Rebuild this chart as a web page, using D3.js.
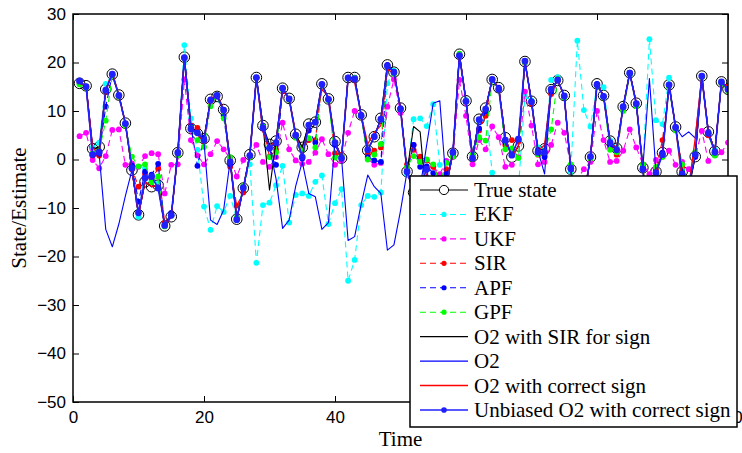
<!DOCTYPE html>
<html><head><meta charset="utf-8">
<script src="https://cdn.jsdelivr.net/npm/d3@7"></script>
<style>body{margin:0;background:#fff}svg{display:block}</style>
</head><body><svg id="c" width="742" height="453"></svg>
<script>
// ---------------- data ----------------
const xTicks = [0, 20, 40, 60, 80, 100];
const xTickLabels = ["0", "20", "40", "", "", "100"]; // 60 and 80 sit under the legend
const yTicks = [-50, -40, -30, -20, -10, 0, 10, 20, 30];
const timeSteps = d3.range(1, 101);

const trueState = [15.7,15.2,2.2,2.6,14.5,17.6,13.3,7.5,-2.2,-11.4,
 -4.6,-5.6,-5.3,-13.7,-11.8,1.4,21.1,6.4,5.3,4.3,
 12.4,13.0,10.3,-0.2,-12.3,-5.9,1.0,16.9,7.0,3.1,
 3.8,14.7,12.6,5.2,2.5,7.3,7.7,15.6,12.5,3.7,
 0.3,16.9,16.9,9.2,1.9,4.7,8.5,19.5,18.0,10.6,
 -2.5,-6.8,-5.8,-9.0,-11.6,-12.1,-5.5,1.3,21.7,12.1,
 0.6,8.3,10.6,16.5,14.8,4.5,0.5,2.8,20.2,12.0,
 1.8,2.2,14.4,16.3,13.2,-2.0,-14.0,-8.0,0.5,15.6,
 13.2,3.8,2.3,10.9,17.9,11.6,-1.7,-16.5,-2.5,1.4,
 15.4,6.7,-2.5,-6.0,0.6,17.2,5.7,1.7,16.0,14.5];

const ekf = [15.5,15.0,2.5,3.5,15.6,17.5,13.0,7.2,-1.8,-11.8,
 -1.8,-4.5,-5.0,-13.5,-11.6,1.0,23.6,8.5,2.0,-9.7,
 -14.5,-9.6,-10.8,-7.5,-12.3,-5.6,-1.0,-21.3,-9.4,-8.9,
 -5.3,-1.3,-13.0,-7.3,-7.0,-7.5,-4.6,-3.3,-13.3,-9.0,
 -6.1,-25.0,-20.7,-9.4,-7.5,-7.7,-6.8,15.7,18.3,10.5,
 -3.0,8.3,8.5,6.9,11.4,-1.1,-0.5,1.0,21.5,12.3,
 1.0,8.0,10.2,-2.7,-6.0,-4.0,-5.0,-6.0,13.0,12.2,
 2.5,2.0,16.4,17.0,13.0,-2.5,24.5,10.2,6.8,15.3,
 14.9,4.0,2.5,10.5,17.5,11.5,-1.5,24.8,8.1,7.3,
 16.9,6.5,-2.0,-5.0,0.9,17.0,5.5,2.0,15.8,14.3];

const ukf = [4.8,5.5,-0.1,-1.8,0.7,6.1,6.2,-1.1,-0.8,-1.5,
 0.7,1.3,1.1,-7.0,-1.1,-1.0,16.5,4.0,0.8,-1.0,
 1.1,3.8,2.1,0.2,-3.5,-0.1,0.9,3.0,-0.5,-1.5,
 0.5,7.6,2.1,-0.2,-0.9,-0.5,1.4,4.2,1.1,-1.1,
 -0.2,5.5,10.0,9.2,0.2,-1.1,-0.7,10.9,16.5,9.6,
 -2.0,3.0,-0.5,-2.0,-1.5,-3.0,-0.3,0.5,16.4,9.0,
 -1.0,4.0,2.1,6.8,4.6,-1.5,-1.1,0.5,14.0,7.0,
 -1.0,-0.5,3.0,7.6,5.5,-1.2,-4.0,-2.0,-0.5,10.0,
 4.0,-0.5,-0.3,1.8,6.2,2.5,-1.0,-3.0,-0.1,1.1,
 1.8,-1.1,-0.5,-2.0,0.5,5.9,-0.3,1.1,1.5,3.5];

const sir = [15.8,15.0,0.8,0.8,14.0,17.5,13.0,7.3,-2.0,-5.6,
 -3.0,-3.9,-1.9,-13.0,-11.5,1.0,21.0,7.0,6.5,3.8,
 12.0,13.2,10.0,-1.5,-9.5,-6.8,0.6,16.8,7.0,0.6,
 2.0,14.6,12.5,4.8,2.0,4.0,4.0,15.5,12.4,1.3,
 1.0,16.9,16.8,9.0,1.1,1.8,2.5,19.4,17.8,10.5,
 -1.0,2.0,0.6,-0.2,-1.5,-4.0,-2.0,0.6,21.6,12.0,
 0.3,6.0,9.0,16.4,14.6,3.0,4.0,3.7,20.0,11.5,
 1.0,0.9,13.5,16.2,13.0,-1.5,-12.0,-7.0,0.3,15.5,
 13.0,2.5,1.0,10.5,17.8,11.5,-1.0,-15.0,-2.0,4.0,
 15.2,6.5,-1.5,-5.0,1.0,17.0,5.0,1.5,15.8,15.0];

const apf = [16.2,15.0,1.0,1.2,10.9,17.5,13.2,7.3,-1.2,-8.7,
 -2.5,-3.1,-0.9,-13.5,-11.0,1.5,21.0,6.8,-1.3,4.5,
 12.4,13.0,9.0,-1.0,-12.0,-6.0,0.8,16.9,7.0,2.5,
 -1.1,14.7,12.5,5.0,0.2,6.0,3.5,15.5,12.4,3.0,
 0.3,16.9,16.9,9.2,0.5,-0.2,-0.5,19.5,18.0,10.6,
 -2.5,3.0,-1.5,-1.4,-2.8,-6.0,-3.0,1.0,21.5,12.0,
 0.2,6.4,10.0,16.5,14.8,3.5,0.9,4.2,20.2,12.0,
 2.0,0.5,14.0,16.3,13.0,-2.0,-13.0,-8.0,0.5,15.6,
 13.0,3.0,2.0,10.9,17.9,11.5,-1.7,-16.0,-2.5,1.4,
 15.4,6.7,-2.5,-5.0,0.6,17.2,5.7,1.7,16.0,14.5];

const gpf = [15.5,14.8,1.3,1.8,8.0,17.3,13.0,7.0,0.6,-1.4,
 -1.0,-4.7,-3.5,-13.8,-11.5,0.8,21.0,6.5,4.0,2.6,
 11.0,13.3,8.5,0.5,-12.0,-5.5,0.5,16.8,6.8,0.5,
 1.5,14.5,12.3,4.5,2.0,4.4,2.5,15.4,12.2,0.4,
 0.8,16.7,16.8,9.0,0.0,1.0,3.2,19.3,17.7,10.3,
 -1.5,0.7,-0.5,0.0,-1.0,-5.0,-0.7,0.6,21.8,12.0,
 1.0,4.6,3.9,16.3,14.5,2.1,2.3,0.3,20.0,11.8,
 1.1,1.5,6.2,16.6,12.8,-1.0,-12.0,-7.0,0.2,15.3,
 12.8,2.0,1.5,10.0,17.6,11.0,-1.0,-15.0,-1.5,0.5,
 15.0,6.0,-1.0,-5.0,1.5,17.0,5.5,0.8,15.7,14.2];

const o2SirSign = [15.7,15.2,2.5,2.0,14.5,17.6,13.3,7.5,-2.2,-11.4,
 -4.6,-5.6,-5.3,-13.7,-11.8,1.4,21.1,6.4,5.3,4.3,
 12.4,13.0,10.3,-0.2,-12.3,-5.9,1.0,16.9,7.0,-6.3,
 3.8,14.7,12.6,5.2,2.5,7.3,7.7,15.6,12.5,3.7,
 0.3,16.9,16.9,9.2,1.9,4.7,8.5,19.5,18.0,10.6,
 -2.5,6.8,5.7,-9.0,-11.6,-12.1,-5.5,1.3,21.7,12.1,
 0.6,8.3,10.6,16.5,14.8,4.5,0.5,2.8,20.2,12.0,
 1.8,2.2,14.4,16.3,13.2,-2.0,-14.0,-8.0,0.5,15.6,
 13.2,3.8,2.3,10.9,17.9,11.6,-1.7,-16.5,-2.5,1.4,
 15.4,6.7,-2.5,-6.0,0.6,17.2,5.7,1.7,16.0,14.5];

const o2 = [15.7,15.2,2.5,1.0,-14.4,-18.0,-13.3,-7.5,-2.2,-11.4,
 -4.6,-5.6,-5.3,-13.7,-11.8,1.4,21.1,6.4,5.3,3.5,
 -12.5,-13.4,-10.4,-0.2,-12.3,-5.9,1.0,16.9,5.7,2.6,
 -4.0,-14.2,-12.5,-5.5,-0.5,-7.0,-7.7,-14.4,-13.0,3.7,
 0.2,-16.7,-15.9,-9.2,-3.2,-5.6,-7.0,-18.7,-17.6,-10.6,
 -2.5,-6.8,-5.8,3.0,11.6,12.1,-5.5,1.3,21.7,12.1,
 0.6,8.3,10.6,16.5,14.8,4.5,0.5,2.8,20.2,12.0,
 1.8,-3.0,14.4,16.3,13.2,-2.0,-14.0,-8.0,0.5,15.6,
 13.2,3.8,2.3,10.9,17.9,11.6,-1.7,16.7,-2.5,1.4,
 15.4,6.7,4.7,5.7,4.4,17.2,5.7,1.7,16.0,14.5];

const o2Correct = [15.7,15.2,2.5,1.0,14.4,18.0,13.3,7.5,-2.2,-11.4,
 -4.6,-5.6,-5.3,-13.7,-11.8,1.4,21.1,6.4,5.3,3.5,
 12.5,13.4,10.4,-0.2,-12.3,-5.9,1.0,16.9,5.7,2.6,
 4.0,14.2,12.5,5.5,0.5,7.0,7.7,14.4,13.0,3.7,
 0.2,16.7,15.9,9.2,3.2,5.6,7.0,18.7,17.6,10.6,
 -2.5,-6.8,-5.8,-3.0,-11.6,-12.1,-5.5,1.3,21.7,12.1,
 0.6,8.3,10.6,16.5,14.8,4.5,0.5,2.8,20.2,12.0,
 1.8,3.0,14.4,16.3,13.2,-2.0,-14.0,-8.0,0.5,15.6,
 13.2,3.8,2.3,10.9,17.9,11.6,-1.7,-16.7,-2.5,1.4,
 15.4,6.7,-4.7,-5.7,4.4,17.2,5.7,1.7,16.0,14.5];

const unbiasedO2 = [16.2,15.0,1.0,1.5,14.3,17.6,13.2,7.4,-1.8,-11.0,
 -3.8,-3.5,-5.9,-13.6,-11.5,1.4,21.0,6.3,5.5,4.0,
 12.2,13.2,10.2,-0.5,-12.4,-5.8,0.8,16.9,6.5,2.3,
 3.5,14.7,12.5,5.0,0.5,7.1,7.7,15.5,12.4,3.5,
 0.3,16.8,16.6,9.0,2.0,4.7,8.3,19.3,18.0,10.4,
 -2.5,-6.5,-5.5,-2.0,-11.3,-11.8,-5.3,1.5,21.4,12.0,
 0.3,8.2,10.4,16.5,14.5,4.0,0.9,4.2,20.3,11.9,
 1.5,1.5,14.5,16.4,13.1,-1.8,-13.8,-7.8,0.6,15.4,
 13.0,3.5,2.0,10.9,17.8,11.5,-2.0,-16.2,-2.8,1.0,
 15.4,6.6,-3.0,-5.5,1.0,17.2,5.4,1.5,16.0,14.5];

const seriesNames = ["True state","EKF","UKF","SIR","APF","GPF",
  "O2 with SIR for sign","O2","O2 with correct sign","Unbiased O2 with correct sign"];

// ---------------- drawing ----------------
const svg = d3.select("#c");
svg.append("rect").attr("width",742).attr("height",453).attr("fill","#fff");

const L = 73, R = 728, T = 14, B = 402;
const x = d3.scaleLinear().domain([0,100]).range([L,R]);
const y = d3.scaleLinear().domain([-50,30]).range([B,T]);

const styles = [
  {data: trueState, color:"#000", dash:null, marker:"circle", w:1.1},
  {data: ekf, color:"#00ffff", dash:"6,4", marker:"dot", w:1.1},
  {data: ukf, color:"#ff00ff", dash:"6,4", marker:"dot", w:1.1},
  {data: sir, color:"#ff0000", dash:"6,4", marker:"dot", w:1.1},
  {data: apf, color:"#0000ff", dash:"6,4", marker:"dot", w:1.1},
  {data: gpf, color:"#00ff00", dash:"6,4", marker:"dot", w:1.1},
  {data: o2SirSign, color:"#000", dash:null, marker:null, w:1.1},
  {data: o2, color:"#0000ff", dash:null, marker:null, w:1.1},
  {data: o2Correct, color:"#ff0000", dash:null, marker:null, w:1.3},
  {data: unbiasedO2, color:"#2020ff", dash:null, marker:"bigdot", w:1.6}
];

svg.append("clipPath").attr("id","pc").append("rect")
  .attr("x",L).attr("y",T).attr("width",R-L).attr("height",B-T);
const plot = svg.append("g").attr("clip-path","url(#pc)");

const line = d3.line().x((d,i)=>x(timeSteps[i])).y(d=>y(d));

styles.forEach(s=>{
  const g = plot.append("g");
  g.append("path").datum(s.data).attr("d", line)
    .attr("fill","none").attr("stroke", s.color).attr("stroke-width", s.w)
    .attr("stroke-dasharray", s.dash).attr("stroke-linejoin","round");
  if (s.marker === "circle") {
    g.selectAll("circle").data(s.data).join("circle")
      .attr("cx",(d,i)=>x(timeSteps[i])).attr("cy",d=>y(d)).attr("r",5.3)
      .attr("fill","none").attr("stroke","#000").attr("stroke-width",1);
  } else if (s.marker === "dot" || s.marker === "bigdot") {
    g.selectAll("circle").data(s.data).join("circle")
      .attr("cx",(d,i)=>x(timeSteps[i])).attr("cy",d=>y(d))
      .attr("r", s.marker==="bigdot" ? 3.4 : 2.9)
      .attr("fill", s.color).attr("stroke","none");
  }
});

// axes
const tickFont = "'Liberation Sans', Arial, Helvetica, sans-serif";
const ax = svg.append("g").attr("transform",`translate(0,${B})`)
  .call(d3.axisBottom(x).tickValues(xTicks).tickSizeInner(-6).tickSizeOuter(0).tickPadding(9)
    .tickFormat((d,i)=>xTickLabels[i]));
const ay = svg.append("g").attr("transform",`translate(${L},0)`)
  .call(d3.axisLeft(y).tickValues(yTicks).tickSizeInner(-6).tickSizeOuter(0).tickPadding(7));
const axT = svg.append("g").attr("transform",`translate(0,${T})`)
  .call(d3.axisTop(x).tickValues(xTicks).tickSizeInner(-6).tickSizeOuter(0).tickFormat(""));
const ayR = svg.append("g").attr("transform",`translate(${R},0)`)
  .call(d3.axisRight(y).tickValues(yTicks).tickSizeInner(-6).tickSizeOuter(0).tickFormat(""));
[ax,ay,axT,ayR].forEach(a=>{
  a.select(".domain").remove();
  a.selectAll(".tick line").attr("stroke","#000").attr("stroke-width",1);
  a.selectAll("text").attr("font-family",tickFont).attr("font-size",17).attr("fill","#000");
});
svg.append("rect").attr("x",L).attr("y",T).attr("width",R-L).attr("height",B-T)
  .attr("fill","none").attr("stroke","#000").attr("stroke-width",1.5);

const serif = "'Liberation Serif', 'Times New Roman', Times, serif";
svg.append("text").attr("x",(L+R)/2).attr("y",446).attr("text-anchor","middle")
  .attr("font-family",serif).attr("font-size",21).text("Time");
svg.append("text").attr("transform",`translate(26,${(T+B)/2}) rotate(-90)`)
  .attr("text-anchor","middle").attr("font-family",serif).attr("font-size",21).text("State/Estimate");

// legend
const lg = svg.append("g");
lg.append("rect").attr("x",410).attr("y",176).attr("width",327).attr("height",251)
  .attr("fill","#fff").attr("stroke","#000").attr("stroke-width",1.5);
styles.forEach((s,i)=>{
  const cy = 190 + i*24.44;
  lg.append("line").attr("x1",420).attr("x2",468).attr("y1",cy).attr("y2",cy)
    .attr("stroke",s.color).attr("stroke-width",s.w).attr("stroke-dasharray",s.dash);
  if (s.marker==="circle") {
    lg.append("circle").attr("cx",444).attr("cy",cy).attr("r",4.6)
      .attr("fill","#fff").attr("stroke","#000").attr("stroke-width",1);
  } else if (s.marker) {
    lg.append("circle").attr("cx",444).attr("cy",cy).attr("r",s.marker==="bigdot"?2.8:2.6).attr("fill",s.color);
  }
  lg.append("text").attr("x",474).attr("y",cy+7).attr("font-family",serif)
    .attr("font-size",21).attr("fill","#000").text(seriesNames[i]);
});
</script></body></html>
